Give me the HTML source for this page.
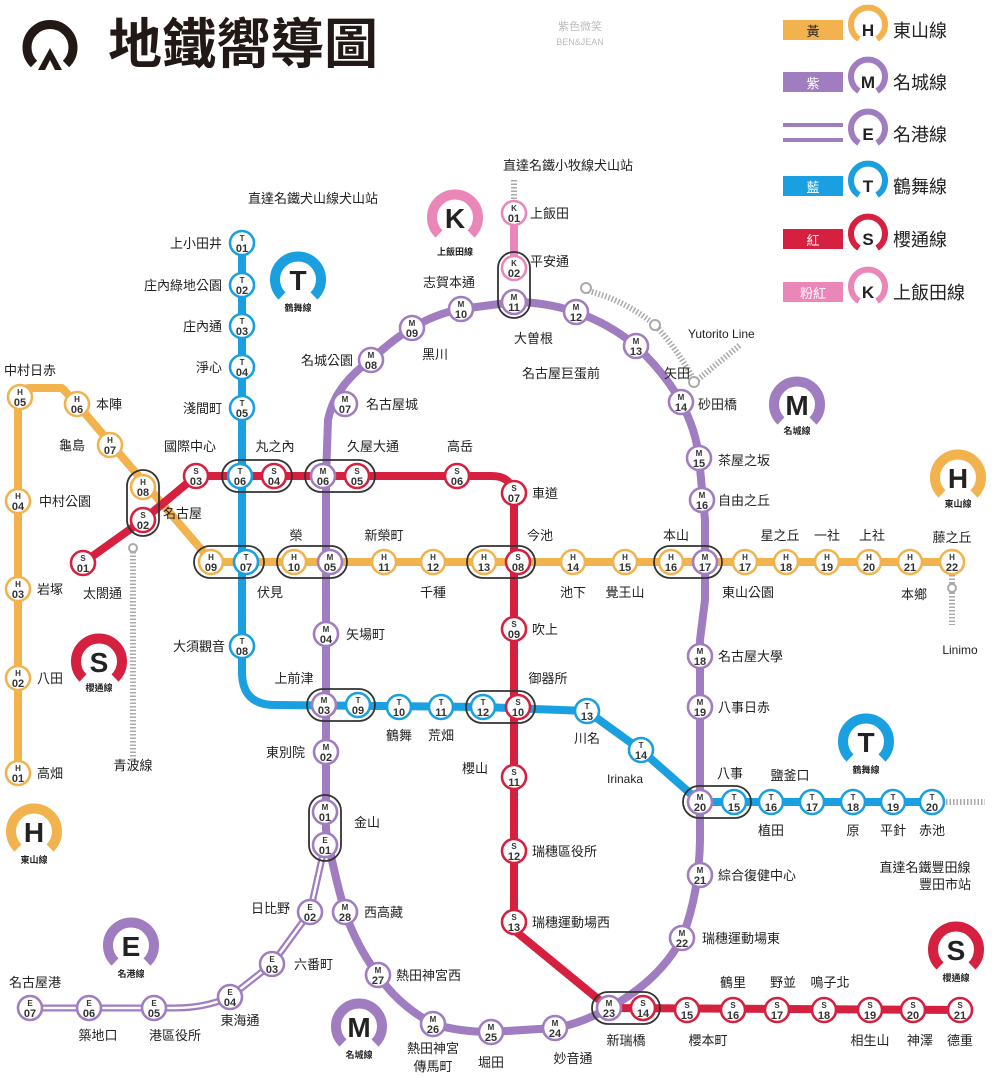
<!DOCTYPE html>
<html><head><meta charset="utf-8">
<style>
body{margin:0;background:#fff}
svg{display:block;font-family:"Liberation Sans","Noto Sans CJK TC",sans-serif}
.st circle{fill:#fff;stroke-width:2.6}
.st text{text-anchor:middle;fill:#333;font-weight:bold}
.st .a{font-size:8px}.st .n{font-size:11px}
.h circle{stroke:#f2b24e}.m circle{stroke:#a07cc0}.t circle{stroke:#1aa0e0}.s circle{stroke:#d5203f}.k circle{stroke:#ea86b8}.e circle{stroke:#a07cc0}
.lb{font-size:13px;fill:#222}
.ix{fill:none;stroke:#333;stroke-width:1.8}
.bd text{text-anchor:middle;font-weight:bold;fill:#222}
</style></head><body>
<svg width="1000" height="1080" viewBox="0 0 1000 1080">
<!-- title -->
<path d="M34,64 A23,23 0 1 1 66,64" fill="none" stroke="#221815" stroke-width="9"/>
<path d="M38,70 L50,48 L62,70 L55,70 L50,60 L45,70 Z" fill="#221815"/>
<text x="108" y="63" font-size="54" font-weight="bold" fill="#221815">地鐵嚮導圖</text>
<text x="580" y="30" font-size="11" fill="#bbb" text-anchor="middle">紫色微笑</text>
<text x="580" y="45" font-size="9" fill="#bbb" text-anchor="middle">BEN&amp;JEAN</text>

<!-- legend -->
<g font-size="18" fill="#222">
<rect x="783" y="20" width="60" height="20" fill="#f2b24e"/><text x="813" y="36" font-size="13" text-anchor="middle" fill="#222">黃</text>
<rect x="783" y="72" width="60" height="20" fill="#a07cc0"/><text x="813" y="88" font-size="13" text-anchor="middle" fill="#fff">紫</text>
<rect x="783" y="123" width="60" height="4" fill="#a07cc0"/><rect x="783" y="138" width="60" height="4" fill="#a07cc0"/>
<rect x="783" y="176" width="60" height="20" fill="#1aa0e0"/><text x="813" y="192" font-size="13" text-anchor="middle" fill="#fff">藍</text>
<rect x="783" y="229" width="60" height="20" fill="#d5203f"/><text x="813" y="245" font-size="13" text-anchor="middle" fill="#fff">紅</text>
<rect x="783" y="282" width="60" height="20" fill="#ea86b8"/><text x="813" y="298" font-size="13" text-anchor="middle" fill="#fff">粉紅</text>
<text x="893" y="37">東山線</text><text x="893" y="89">名城線</text><text x="893" y="141">名港線</text>
<text x="893" y="193">鶴舞線</text><text x="893" y="246">櫻通線</text><text x="893" y="299">上飯田線</text>
</g>
<g class="bd" font-size="17">
<path d="M859,39 A17,17 0 1 1 877,39" fill="none" stroke="#f2b24e" stroke-width="6"/><text x="868" y="36">H</text>
<path d="M859,91 A17,17 0 1 1 877,91" fill="none" stroke="#a07cc0" stroke-width="6"/><text x="868" y="88">M</text>
<path d="M859,143 A17,17 0 1 1 877,143" fill="none" stroke="#a07cc0" stroke-width="6"/><text x="868" y="140">E</text>
<path d="M859,195 A17,17 0 1 1 877,195" fill="none" stroke="#1aa0e0" stroke-width="6"/><text x="868" y="192">T</text>
<path d="M859,248 A17,17 0 1 1 877,248" fill="none" stroke="#d5203f" stroke-width="6"/><text x="868" y="245">S</text>
<path d="M859,301 A17,17 0 1 1 877,301" fill="none" stroke="#ea86b8" stroke-width="6"/><text x="868" y="298">K</text>
</g>

<!-- gray dashed lines -->
<g fill="none" stroke="#aaa" stroke-width="6" stroke-dasharray="1.5,2">
<path d="M514,180 L514,200"/>
<path d="M133,545 L133,760"/>
<path d="M952,575 L952,625"/>
<path d="M946,802 L985,802"/>
<path d="M585,290 Q625,300 655,325 Q678,350 695,382"/>
<path d="M695,382 L740,345"/>
</g>
<g fill="#fff" stroke="#aaa" stroke-width="2"><circle cx="586" cy="288" r="5"/><circle cx="655" cy="325" r="5"/><circle cx="694" cy="382" r="5"/><circle cx="952" cy="588" r="4"/><circle cx="133" cy="548" r="4"/></g>

<!-- lines -->
<g fill="none" stroke-width="8" stroke-linejoin="round" stroke-linecap="round">
<path stroke="#f2b24e" d="M18,773 L18,398 Q18,388 30,388 L62,388 L77,404 L212,562 L952,562"/>
<path stroke="#a07cc0" d="M326,476 L328,420 Q335,385 371,360 Q392,340 412,328 Q435,314 461,309 L514,302 Q545,302 576,312 Q610,324 636,346 Q664,372 681,402 Q696,430 699,458 L705,520 L705,600 L700,640 L700,840 Q699,895 682,938 Q660,980 609,1008 Q580,1024 555,1028 L491,1032 Q460,1032 433,1024 Q398,1005 378,975 Q356,945 345,912 Q333,870 326,830 Z"/>
<path stroke="#1aa0e0" d="M242,236 L242,672 Q242,705 275,705 L483,707 L587,711 L641,750 L700,802 L932,802"/>
<path stroke="#d5203f" d="M83,563 L143,520 L196,476 L492,476 Q514,476 514,500 L514,930 L609,1008 L960,1010"/>
<path stroke="#ea86b8" d="M514,213 L514,268"/>
<path stroke="#a07cc0" stroke-width="7" d="M325,845 L310,912 L272,964 L230,997 Q205,1008 175,1008 L30,1008"/>
<path stroke="#fff" stroke-width="2.5" d="M325,845 L310,912 L272,964 L230,997 Q205,1008 175,1008 L30,1008"/>
</g>

<!-- interchange boxes -->
<g class="ix">
<rect x="222" y="460" width="70" height="32" rx="16"/>
<rect x="305" y="460" width="70" height="32" rx="16"/>
<rect x="194" y="546" width="70" height="32" rx="16"/>
<rect x="277" y="546" width="70" height="32" rx="16"/>
<rect x="467" y="546" width="68" height="32" rx="16"/>
<rect x="654" y="546" width="68" height="32" rx="16"/>
<rect x="127" y="470" width="32" height="66" rx="16"/>
<rect x="498" y="252" width="32" height="66" rx="16"/>
<rect x="307" y="689" width="68" height="32" rx="16"/>
<rect x="466" y="691" width="69" height="32" rx="16"/>
<rect x="683" y="786" width="68" height="32" rx="16"/>
<rect x="309" y="795" width="32" height="66" rx="16"/>
<rect x="592" y="992" width="68" height="32" rx="16"/>
</g>

<!-- stations -->
<g class="st h">
<g transform="translate(18,773)"><circle r="12"/><text class="a" y="-2">H</text><text class="n" y="9">01</text></g>
<g transform="translate(18,678)"><circle r="12"/><text class="a" y="-2">H</text><text class="n" y="9">02</text></g>
<g transform="translate(18,589)"><circle r="12"/><text class="a" y="-2">H</text><text class="n" y="9">03</text></g>
<g transform="translate(18,501)"><circle r="12"/><text class="a" y="-2">H</text><text class="n" y="9">04</text></g>
<g transform="translate(20,397)"><circle r="12"/><text class="a" y="-2">H</text><text class="n" y="9">05</text></g>
<g transform="translate(77,404)"><circle r="12"/><text class="a" y="-2">H</text><text class="n" y="9">06</text></g>
<g transform="translate(110,445)"><circle r="12"/><text class="a" y="-2">H</text><text class="n" y="9">07</text></g>
<g transform="translate(143,487)"><circle r="12"/><text class="a" y="-2">H</text><text class="n" y="9">08</text></g>
<g transform="translate(211,562)"><circle r="12"/><text class="a" y="-2">H</text><text class="n" y="9">09</text></g>
<g transform="translate(294,562)"><circle r="12"/><text class="a" y="-2">H</text><text class="n" y="9">10</text></g>
<g transform="translate(384,562)"><circle r="12"/><text class="a" y="-2">H</text><text class="n" y="9">11</text></g>
<g transform="translate(433,562)"><circle r="12"/><text class="a" y="-2">H</text><text class="n" y="9">12</text></g>
<g transform="translate(484,562)"><circle r="12"/><text class="a" y="-2">H</text><text class="n" y="9">13</text></g>
<g transform="translate(573,562)"><circle r="12"/><text class="a" y="-2">H</text><text class="n" y="9">14</text></g>
<g transform="translate(625,562)"><circle r="12"/><text class="a" y="-2">H</text><text class="n" y="9">15</text></g>
<g transform="translate(671,562)"><circle r="12"/><text class="a" y="-2">H</text><text class="n" y="9">16</text></g>
<g transform="translate(745,562)"><circle r="12"/><text class="a" y="-2">H</text><text class="n" y="9">17</text></g>
<g transform="translate(786,562)"><circle r="12"/><text class="a" y="-2">H</text><text class="n" y="9">18</text></g>
<g transform="translate(827,562)"><circle r="12"/><text class="a" y="-2">H</text><text class="n" y="9">19</text></g>
<g transform="translate(869,562)"><circle r="12"/><text class="a" y="-2">H</text><text class="n" y="9">20</text></g>
<g transform="translate(910,562)"><circle r="12"/><text class="a" y="-2">H</text><text class="n" y="9">21</text></g>
<g transform="translate(952,562)"><circle r="12"/><text class="a" y="-2">H</text><text class="n" y="9">22</text></g>
</g>
<g class="st t">
<g transform="translate(242,243)"><circle r="12"/><text class="a" y="-2">T</text><text class="n" y="9">01</text></g>
<g transform="translate(242,285)"><circle r="12"/><text class="a" y="-2">T</text><text class="n" y="9">02</text></g>
<g transform="translate(242,326)"><circle r="12"/><text class="a" y="-2">T</text><text class="n" y="9">03</text></g>
<g transform="translate(242,367)"><circle r="12"/><text class="a" y="-2">T</text><text class="n" y="9">04</text></g>
<g transform="translate(242,408)"><circle r="12"/><text class="a" y="-2">T</text><text class="n" y="9">05</text></g>
<g transform="translate(240,476)"><circle r="12"/><text class="a" y="-2">T</text><text class="n" y="9">06</text></g>
<g transform="translate(246,562)"><circle r="12"/><text class="a" y="-2">T</text><text class="n" y="9">07</text></g>
<g transform="translate(242,646)"><circle r="12"/><text class="a" y="-2">T</text><text class="n" y="9">08</text></g>
<g transform="translate(358,705)"><circle r="12"/><text class="a" y="-2">T</text><text class="n" y="9">09</text></g>
<g transform="translate(399,707)"><circle r="12"/><text class="a" y="-2">T</text><text class="n" y="9">10</text></g>
<g transform="translate(441,707)"><circle r="12"/><text class="a" y="-2">T</text><text class="n" y="9">11</text></g>
<g transform="translate(483,707)"><circle r="12"/><text class="a" y="-2">T</text><text class="n" y="9">12</text></g>
<g transform="translate(587,711)"><circle r="12"/><text class="a" y="-2">T</text><text class="n" y="9">13</text></g>
<g transform="translate(641,750)"><circle r="12"/><text class="a" y="-2">T</text><text class="n" y="9">14</text></g>
<g transform="translate(734,802)"><circle r="12"/><text class="a" y="-2">T</text><text class="n" y="9">15</text></g>
<g transform="translate(771,802)"><circle r="12"/><text class="a" y="-2">T</text><text class="n" y="9">16</text></g>
<g transform="translate(812,802)"><circle r="12"/><text class="a" y="-2">T</text><text class="n" y="9">17</text></g>
<g transform="translate(853,802)"><circle r="12"/><text class="a" y="-2">T</text><text class="n" y="9">18</text></g>
<g transform="translate(893,802)"><circle r="12"/><text class="a" y="-2">T</text><text class="n" y="9">19</text></g>
<g transform="translate(932,802)"><circle r="12"/><text class="a" y="-2">T</text><text class="n" y="9">20</text></g>
</g>
<g class="st m">
<g transform="translate(325,812)"><circle r="12"/><text class="a" y="-2">M</text><text class="n" y="9">01</text></g>
<g transform="translate(326,752)"><circle r="12"/><text class="a" y="-2">M</text><text class="n" y="9">02</text></g>
<g transform="translate(324,705)"><circle r="12"/><text class="a" y="-2">M</text><text class="n" y="9">03</text></g>
<g transform="translate(326,634)"><circle r="12"/><text class="a" y="-2">M</text><text class="n" y="9">04</text></g>
<g transform="translate(330,562)"><circle r="12"/><text class="a" y="-2">M</text><text class="n" y="9">05</text></g>
<g transform="translate(323,476)"><circle r="12"/><text class="a" y="-2">M</text><text class="n" y="9">06</text></g>
<g transform="translate(345,404)"><circle r="12"/><text class="a" y="-2">M</text><text class="n" y="9">07</text></g>
<g transform="translate(371,360)"><circle r="12"/><text class="a" y="-2">M</text><text class="n" y="9">08</text></g>
<g transform="translate(412,328)"><circle r="12"/><text class="a" y="-2">M</text><text class="n" y="9">09</text></g>
<g transform="translate(461,309)"><circle r="12"/><text class="a" y="-2">M</text><text class="n" y="9">10</text></g>
<g transform="translate(514,302)"><circle r="12"/><text class="a" y="-2">M</text><text class="n" y="9">11</text></g>
<g transform="translate(576,312)"><circle r="12"/><text class="a" y="-2">M</text><text class="n" y="9">12</text></g>
<g transform="translate(636,346)"><circle r="12"/><text class="a" y="-2">M</text><text class="n" y="9">13</text></g>
<g transform="translate(681,402)"><circle r="12"/><text class="a" y="-2">M</text><text class="n" y="9">14</text></g>
<g transform="translate(699,458)"><circle r="12"/><text class="a" y="-2">M</text><text class="n" y="9">15</text></g>
<g transform="translate(702,500)"><circle r="12"/><text class="a" y="-2">M</text><text class="n" y="9">16</text></g>
<g transform="translate(705,562)"><circle r="12"/><text class="a" y="-2">M</text><text class="n" y="9">17</text></g>
<g transform="translate(700,656)"><circle r="12"/><text class="a" y="-2">M</text><text class="n" y="9">18</text></g>
<g transform="translate(700,707)"><circle r="12"/><text class="a" y="-2">M</text><text class="n" y="9">19</text></g>
<g transform="translate(700,802)"><circle r="12"/><text class="a" y="-2">M</text><text class="n" y="9">20</text></g>
<g transform="translate(700,875)"><circle r="12"/><text class="a" y="-2">M</text><text class="n" y="9">21</text></g>
<g transform="translate(682,938)"><circle r="12"/><text class="a" y="-2">M</text><text class="n" y="9">22</text></g>
<g transform="translate(609,1008)"><circle r="12"/><text class="a" y="-2">M</text><text class="n" y="9">23</text></g>
<g transform="translate(555,1028)"><circle r="12"/><text class="a" y="-2">M</text><text class="n" y="9">24</text></g>
<g transform="translate(491,1032)"><circle r="12"/><text class="a" y="-2">M</text><text class="n" y="9">25</text></g>
<g transform="translate(433,1024)"><circle r="12"/><text class="a" y="-2">M</text><text class="n" y="9">26</text></g>
<g transform="translate(378,975)"><circle r="12"/><text class="a" y="-2">M</text><text class="n" y="9">27</text></g>
<g transform="translate(345,912)"><circle r="12"/><text class="a" y="-2">M</text><text class="n" y="9">28</text></g>
</g>
<g class="st e">
<g transform="translate(325,845)"><circle r="12"/><text class="a" y="-2">E</text><text class="n" y="9">01</text></g>
<g transform="translate(310,912)"><circle r="12"/><text class="a" y="-2">E</text><text class="n" y="9">02</text></g>
<g transform="translate(272,964)"><circle r="12"/><text class="a" y="-2">E</text><text class="n" y="9">03</text></g>
<g transform="translate(230,997)"><circle r="12"/><text class="a" y="-2">E</text><text class="n" y="9">04</text></g>
<g transform="translate(154,1008)"><circle r="12"/><text class="a" y="-2">E</text><text class="n" y="9">05</text></g>
<g transform="translate(89,1008)"><circle r="12"/><text class="a" y="-2">E</text><text class="n" y="9">06</text></g>
<g transform="translate(30,1008)"><circle r="12"/><text class="a" y="-2">E</text><text class="n" y="9">07</text></g>
</g>
<g class="st s">
<g transform="translate(83,563)"><circle r="12"/><text class="a" y="-2">S</text><text class="n" y="9">01</text></g>
<g transform="translate(143,520)"><circle r="12"/><text class="a" y="-2">S</text><text class="n" y="9">02</text></g>
<g transform="translate(196,476)"><circle r="12"/><text class="a" y="-2">S</text><text class="n" y="9">03</text></g>
<g transform="translate(274,476)"><circle r="12"/><text class="a" y="-2">S</text><text class="n" y="9">04</text></g>
<g transform="translate(357,476)"><circle r="12"/><text class="a" y="-2">S</text><text class="n" y="9">05</text></g>
<g transform="translate(457,476)"><circle r="12"/><text class="a" y="-2">S</text><text class="n" y="9">06</text></g>
<g transform="translate(514,493)"><circle r="12"/><text class="a" y="-2">S</text><text class="n" y="9">07</text></g>
<g transform="translate(518,562)"><circle r="12"/><text class="a" y="-2">S</text><text class="n" y="9">08</text></g>
<g transform="translate(514,629)"><circle r="12"/><text class="a" y="-2">S</text><text class="n" y="9">09</text></g>
<g transform="translate(518,707)"><circle r="12"/><text class="a" y="-2">S</text><text class="n" y="9">10</text></g>
<g transform="translate(514,777)"><circle r="12"/><text class="a" y="-2">S</text><text class="n" y="9">11</text></g>
<g transform="translate(514,851)"><circle r="12"/><text class="a" y="-2">S</text><text class="n" y="9">12</text></g>
<g transform="translate(514,922)"><circle r="12"/><text class="a" y="-2">S</text><text class="n" y="9">13</text></g>
<g transform="translate(643,1008)"><circle r="12"/><text class="a" y="-2">S</text><text class="n" y="9">14</text></g>
<g transform="translate(687,1010)"><circle r="12"/><text class="a" y="-2">S</text><text class="n" y="9">15</text></g>
<g transform="translate(733,1010)"><circle r="12"/><text class="a" y="-2">S</text><text class="n" y="9">16</text></g>
<g transform="translate(777,1010)"><circle r="12"/><text class="a" y="-2">S</text><text class="n" y="9">17</text></g>
<g transform="translate(824,1010)"><circle r="12"/><text class="a" y="-2">S</text><text class="n" y="9">18</text></g>
<g transform="translate(870,1010)"><circle r="12"/><text class="a" y="-2">S</text><text class="n" y="9">19</text></g>
<g transform="translate(913,1010)"><circle r="12"/><text class="a" y="-2">S</text><text class="n" y="9">20</text></g>
<g transform="translate(960,1010)"><circle r="12"/><text class="a" y="-2">S</text><text class="n" y="9">21</text></g>
</g>
<g class="st k">
<g transform="translate(514,213)"><circle r="12"/><text class="a" y="-2">K</text><text class="n" y="9">01</text></g>
<g transform="translate(514,268)"><circle r="12"/><text class="a" y="-2">K</text><text class="n" y="9">02</text></g>
</g>

<!-- badges -->
<g class="bd">
<g transform="translate(298,280)"><path d="M-16,16 A23,23 0 1 1 16,16" fill="none" stroke="#1aa0e0" stroke-width="10"/><text y="10" font-size="28">T</text><text y="31" font-size="9">鶴舞線</text></g>
<g transform="translate(455,218)"><path d="M-16,16 A23,23 0 1 1 16,16" fill="none" stroke="#ea86b8" stroke-width="10"/><text y="10" font-size="28">K</text><text y="37" font-size="9">上飯田線</text></g>
<g transform="translate(797,405)"><path d="M-16,16 A23,23 0 1 1 16,16" fill="none" stroke="#a07cc0" stroke-width="10"/><text y="10" font-size="28">M</text><text y="29" font-size="9">名城線</text></g>
<g transform="translate(958,478)"><path d="M-16,16 A23,23 0 1 1 16,16" fill="none" stroke="#f2b24e" stroke-width="10"/><text y="10" font-size="28">H</text><text y="29" font-size="9">東山線</text></g>
<g transform="translate(99,662)"><path d="M-16,16 A23,23 0 1 1 16,16" fill="none" stroke="#d5203f" stroke-width="10"/><text y="10" font-size="28">S</text><text y="29" font-size="9">櫻通線</text></g>
<g transform="translate(34,832)"><path d="M-16,16 A23,23 0 1 1 16,16" fill="none" stroke="#f2b24e" stroke-width="10"/><text y="10" font-size="28">H</text><text y="31" font-size="9">東山線</text></g>
<g transform="translate(131,946)"><path d="M-16,16 A23,23 0 1 1 16,16" fill="none" stroke="#a07cc0" stroke-width="10"/><text y="10" font-size="28">E</text><text y="31" font-size="9">名港線</text></g>
<g transform="translate(359,1027)"><path d="M-16,16 A23,23 0 1 1 16,16" fill="none" stroke="#a07cc0" stroke-width="10"/><text y="10" font-size="28">M</text><text y="31" font-size="9">名城線</text></g>
<g transform="translate(866,742)"><path d="M-16,16 A23,23 0 1 1 16,16" fill="none" stroke="#1aa0e0" stroke-width="10"/><text y="10" font-size="28">T</text><text y="31" font-size="9">鶴舞線</text></g>
<g transform="translate(956,950)"><path d="M-16,16 A23,23 0 1 1 16,16" fill="none" stroke="#d5203f" stroke-width="10"/><text y="10" font-size="28">S</text><text y="31" font-size="9">櫻通線</text></g>
</g>

<!-- labels -->
<g class="lb">
<g text-anchor="end">
<text x="222" y="248">上小田井</text><text x="222" y="290">庄內綠地公園</text><text x="222" y="331">庄內通</text>
<text x="222" y="372">淨心</text><text x="222" y="413">淺間町</text><text x="225" y="651">大須觀音</text>
<text x="305" y="757">東別院</text><text x="290" y="913">日比野</text><text x="690" y="378">矢田</text>
<text x="600" y="378">名古屋巨蛋前</text><text x="553" y="343">大曽根</text><text x="488" y="773">櫻山</text>
<text x="475" y="287">志賀本通</text><text x="353" y="365">名城公園</text><text x="85" y="450">龜島</text>
</g>
<g text-anchor="middle">
<text x="313" y="203">直達名鐵犬山線犬山站</text><text x="568" y="170">直達名鐵小牧線犬山站</text>
<text x="190" y="451">國際中心</text><text x="275" y="451">丸之內</text><text x="373" y="451">久屋大通</text><text x="460" y="451">高岳</text>
<text x="296" y="540">榮</text><text x="384" y="540">新榮町</text><text x="540" y="540">今池</text><text x="676" y="540">本山</text>
<text x="780" y="540">星之丘</text><text x="827" y="540">一社</text><text x="872" y="540">上社</text><text x="952" y="542">藤之丘</text>
<text x="270" y="597">伏見</text><text x="433" y="597">千種</text><text x="573" y="597">池下</text><text x="625" y="597">覺王山</text>
<text x="748" y="597">東山公園</text><text x="914" y="599">本鄉</text><text x="960" y="654" font-size="12">Linimo</text>
<text x="30" y="375">中村日赤</text><text x="133" y="770">青波線</text><text x="294" y="683">上前津</text><text x="548" y="683">御器所</text>
<text x="399" y="740">鶴舞</text><text x="441" y="740">荒畑</text><text x="587" y="743">川名</text><text x="625" y="783" font-size="12">Irinaka</text>
<text x="730" y="778">八事</text><text x="790" y="780">鹽釜口</text><text x="771" y="835">植田</text><text x="853" y="835">原</text>
<text x="893" y="835">平針</text><text x="932" y="835">赤池</text><text x="925" y="872">直達名鐵豐田線</text><text x="945" y="889">豐田市站</text>
<text x="35" y="987">名古屋港</text><text x="98" y="1040">築地口</text><text x="175" y="1040">港區役所</text><text x="240" y="1025">東海通</text>
<text x="433" y="1053">熱田神宮</text><text x="433" y="1071">傳馬町</text><text x="491" y="1067">堀田</text><text x="573" y="1063">妙音通</text>
<text x="626" y="1045">新瑞橋</text><text x="708" y="1045">櫻本町</text><text x="733" y="987">鶴里</text><text x="783" y="987">野並</text>
<text x="830" y="987">鳴子北</text><text x="870" y="1045">相生山</text><text x="920" y="1045">神澤</text><text x="960" y="1045">德重</text>
</g>
<text x="366" y="409">名古屋城</text><text x="422" y="359">黑川</text><text x="530" y="218">上飯田</text><text x="530" y="266">平安通</text>
<text x="688" y="338" font-size="12">Yutorito Line</text><text x="698" y="409">砂田橋</text><text x="718" y="465">茶屋之坂</text><text x="718" y="505">自由之丘</text>
<text x="718" y="661">名古屋大學</text><text x="718" y="712">八事日赤</text><text x="718" y="880">綜合復健中心</text><text x="702" y="943">瑞穗運動場東</text>
<text x="532" y="498">車道</text><text x="532" y="634">吹上</text><text x="532" y="856">瑞穗區役所</text><text x="532" y="927">瑞穗運動場西</text>
<text x="346" y="639">矢場町</text><text x="354" y="827">金山</text><text x="364" y="917">西高藏</text><text x="396" y="980">熱田神宮西</text>
<text x="294" y="969">六番町</text><text x="96" y="409">本陣</text><text x="39" y="506">中村公園</text><text x="37" y="594">岩塚</text>
<text x="37" y="683">八田</text><text x="37" y="778">高畑</text><text x="163" y="518">名古屋</text><text x="83" y="598">太閤通</text>
</g>
</svg>
</body></html>
